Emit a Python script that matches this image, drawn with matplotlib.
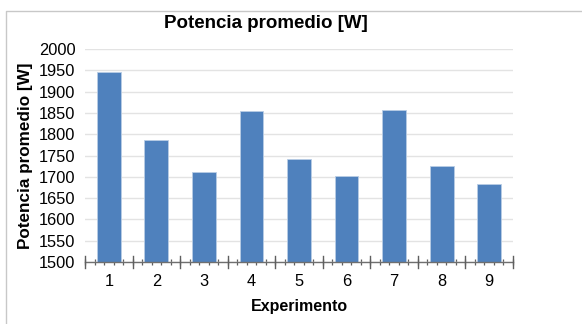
import numpy as np
import matplotlib
matplotlib.use("Agg")
import matplotlib.pyplot as plt
from matplotlib.lines import Line2D
from matplotlib.ticker import MultipleLocator, FixedLocator

plt.rcParams['font.family'] = ['Liberation Sans', 'DejaVu Sans']

experimentos = [1, 2, 3, 4, 5, 6, 7, 8, 9]
potencia = [1947, 1786, 1712, 1854, 1742, 1703, 1856, 1726, 1682]

W, H = 582, 324
fig = plt.figure(figsize=(W / 100, H / 100), dpi=100)

# light frame: only the left and top edges fall inside the image
fx, fy = 5.5 / W, 1 - 10.5 / H
fig.add_artist(Line2D([fx, fx, 1.05], [-0.05, fy, fy], transform=fig.transFigure,
                      color='#c8c8c8', linewidth=1.0))

ax = fig.add_axes([85 / W, 1 - 262 / H, 428 / W, 213 / H])

ax.bar(experimentos, potencia, width=0.5, bottom=0,
       color='#4f81bd', edgecolor='#b9cde5', linewidth=0.6, zorder=3)

ax.set_xlim(0.5, 9.5)
ax.set_ylim(1500, 2000)
ax.yaxis.set_major_locator(MultipleLocator(50))
ax.grid(axis='y', color='#e3e3e3', linewidth=1.0, zorder=0)

ax.set_xticks(experimentos)
ax.xaxis.set_minor_locator(FixedLocator(np.arange(0.5, 9.51, 0.2)))

for s in ['top', 'right', 'left']:
    ax.spines[s].set_visible(False)
ax.spines['bottom'].set_color('#6f6f6f')
ax.spines['bottom'].set_linewidth(1.0)
ax.spines['bottom'].set_zorder(4)

ax.tick_params(axis='y', length=0, pad=7, labelsize=11.8, colors='#000000')
ax.tick_params(axis='x', which='major', length=0, pad=9, labelsize=11.8)
ax.tick_params(axis='x', which='minor', length=5, direction='inout',
               color='#5f5f5f', width=0.9)

# longer separators between categories
for b in np.arange(0.5, 9.51, 1.0):
    ax.plot([b, b], [-0.026, 0.026], transform=ax.get_xaxis_transform(),
            color='#5f5f5f', linewidth=1.0, clip_on=False, zorder=5)

# chart title is centred on the chart area, not on the plot area
fig.text(266 / W, 1 - 23 / H, 'Potencia promedio [W]', fontsize=13.5,
         fontweight='bold', ha='center', va='center')
ax.set_xlabel('Experimento', fontsize=11.5, fontweight='bold', labelpad=7)
ax.set_ylabel('Potencia promedio [W]', fontsize=12.3, fontweight='bold', labelpad=4)

fig.savefig('out.png', dpi=100)
